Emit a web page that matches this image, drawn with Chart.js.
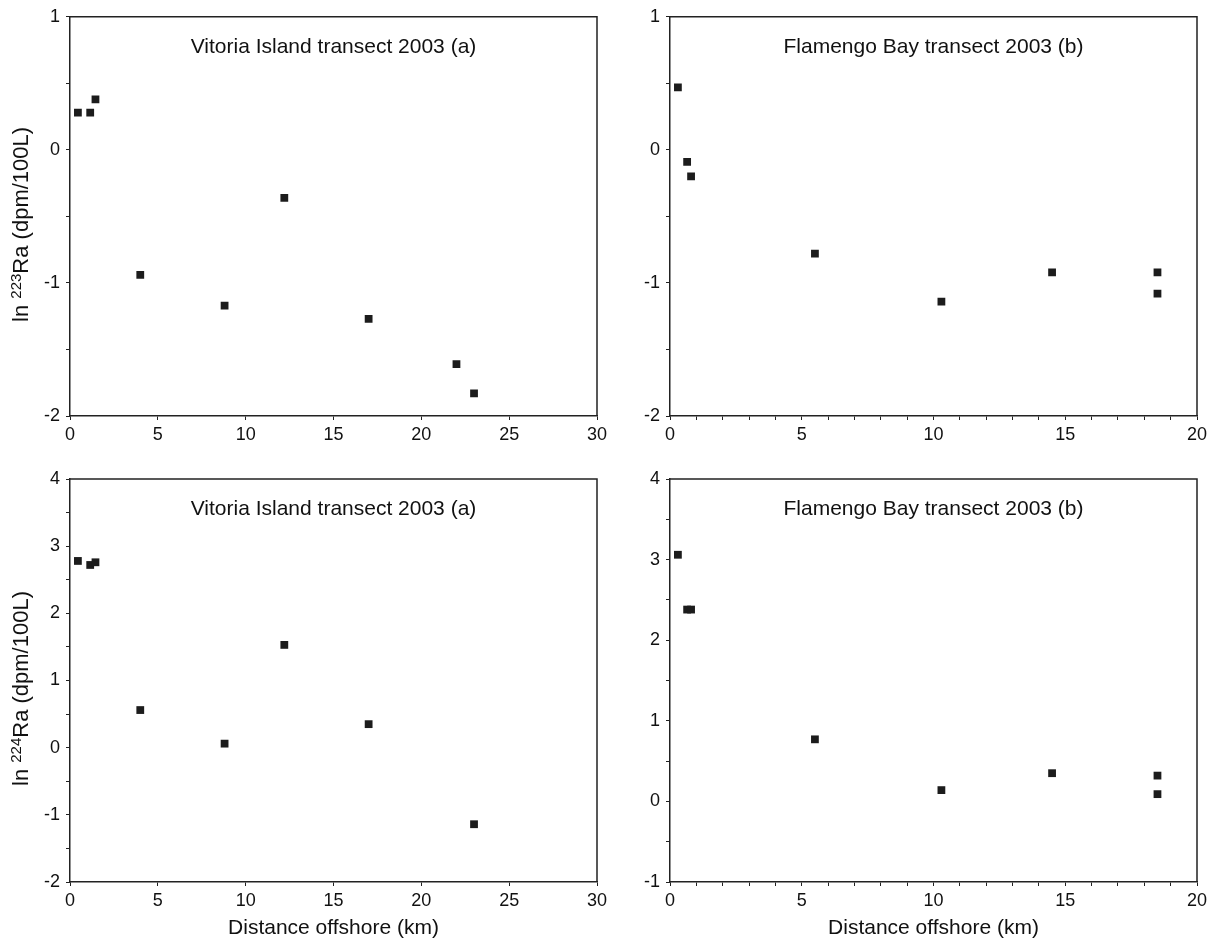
<!DOCTYPE html>
<html lang="en">
<head>
    <meta charset="UTF-8">
    <title>ln Ra vs distance offshore, 2003 transects</title>
    <script src="https://cdn.jsdelivr.net/npm/chart.js"></script>
    <style>
        body {
            margin: 0;
            background: #fff;
        }
        #wrap {
            position: relative;
            width: 1214px;
            height: 940px;
        }
        #wrap canvas {
            position: absolute;
        }
    </style>
</head>
<body>
    <div id="wrap">
        <canvas id="c1" width="620" height="460" style="left:0;top:0"></canvas>
        <canvas id="c2" width="614" height="460" style="left:600px;top:0"></canvas>
        <canvas id="c3" width="620" height="480" style="left:0;top:460px"></canvas>
        <canvas id="c4" width="614" height="480" style="left:600px;top:460px"></canvas>
    </div>

    <script>
        // Vitoria Island transect (a), distance in km
        const vitoriaX223 = [0.45, 1.15, 1.45, 4.0, 8.8, 12.2, 17.0, 22.0, 23.0];
        const vitoriaRa223 = [0.28, 0.28, 0.38, -0.94, -1.17, -0.36, -1.27, -1.61, -1.83];
        const vitoriaX224 = [0.45, 1.15, 1.45, 4.0, 8.8, 12.2, 17.0, 23.0];
        const vitoriaRa224 = [2.78, 2.72, 2.76, 0.56, 0.06, 1.53, 0.35, -1.14];

        // Flamengo Bay transect (b)
        const flamengoX223 = [0.3, 0.65, 0.8, 5.5, 10.3, 14.5, 18.5, 18.5];
        const flamengoRa223 = [0.47, -0.09, -0.20, -0.78, -1.14, -0.92, -0.92, -1.08];
        const flamengoX224 = [0.3, 0.65, 0.8, 5.5, 10.3, 14.5, 18.5, 18.5];
        const flamengoRa224 = [3.06, 2.38, 2.38, 0.77, 0.14, 0.35, 0.32, 0.09];

        const panelTitles = ["Vitoria Island transect 2003 (a)", "Flamengo Bay transect 2003 (b)"];
        const isotopes = ["223", "224"];
        const xTitle = "Distance offshore (km)";
        const yRange223 = [-2, 1];
        const yRange224Vitoria = [-2, 4];
        const yRange224Flamengo = [-1, 4];
        const xRangeVitoria = [0, 30];
        const xRangeFlamengo = [0, 20];

        const FONT = '"Liberation Sans", Arial, sans-serif';
        const INK = "#111";
        const LINE = "#222";

        // box top + right sides (left/bottom come from the axes)
        const framePlugin = {
            id: "frame",
            beforeDatasetsDraw(chart) {
                const a = chart.chartArea, ctx = chart.ctx;
                ctx.save();
                ctx.strokeStyle = LINE;
                ctx.lineWidth = 1.5;
                ctx.beginPath();
                ctx.moveTo(a.left, a.top);
                ctx.lineTo(a.right, a.top);
                ctx.lineTo(a.right, a.bottom);
                ctx.stroke();
                ctx.restore();
            }
        };

        function titlePlugin(text) {
            return {
                id: "panelTitle",
                afterDatasetsDraw(chart) {
                    const a = chart.chartArea, ctx = chart.ctx;
                    ctx.save();
                    ctx.font = "21px " + FONT;
                    ctx.fillStyle = INK;
                    ctx.textAlign = "center";
                    ctx.textBaseline = "alphabetic";
                    ctx.fillText(text, (a.left + a.right) / 2, a.top + 36);
                    ctx.restore();
                }
            };
        }

        // rotated y title with superscript mass number
        function yTitlePlugin(iso) {
            return {
                id: "yTitle",
                afterDraw(chart) {
                    const a = chart.chartArea, ctx = chart.ctx;
                    const parts = [
                        ["ln ", "22px " + FONT, 0],
                        [iso, "15px " + FONT, -7],
                        ["Ra (dpm/100L)", "22px " + FONT, 0]
                    ];
                    ctx.save();
                    ctx.translate(28, (a.top + a.bottom) / 2 + 8);
                    ctx.rotate(-Math.PI / 2);
                    ctx.fillStyle = INK;
                    ctx.textBaseline = "alphabetic";
                    ctx.textAlign = "left";
                    let w = 0;
                    parts.forEach(p => { ctx.font = p[1]; w += ctx.measureText(p[0]).width; });
                    let x = -w / 2;
                    parts.forEach(p => {
                        ctx.font = p[1];
                        ctx.fillText(p[0], x, p[2]);
                        x += ctx.measureText(p[0]).width;
                    });
                    ctx.restore();
                }
            };
        }

        // box = [left, top, right, bottom] of the plot area inside the canvas
        function makePanel(id, xs, ys, xRange, xStep, yRange, box, title, iso, showXTitle) {
            const canvas = document.getElementById(id);
            const points = xs.map((x, i) => ({ x: x, y: ys[i] }));
            const plugins = [framePlugin, titlePlugin(title)];
            if (iso) plugins.push(yTitlePlugin(iso));

            return new Chart(canvas, {
                type: "scatter",
                data: {
                    datasets: [{
                        data: points,
                        pointStyle: "rect",
                        pointRadius: 5.5,
                        pointHoverRadius: 5.5,
                        backgroundColor: "#1c1c1c",
                        borderWidth: 0
                    }]
                },
                options: {
                    responsive: false,
                    animation: false,
                    events: [],
                    layout: {
                        padding: { left: 0, top: box[1], right: canvas.width - box[2], bottom: 0 }
                    },
                    plugins: {
                        legend: { display: false },
                        tooltip: { enabled: false }
                    },
                    scales: {
                        x: {
                            type: "linear",
                            min: xRange[0],
                            max: xRange[1],
                            afterFit: s => { s.height = canvas.height - box[3]; },
                            border: { display: true, color: LINE, width: 1.5 },
                            grid: { drawOnChartArea: false, drawTicks: true, tickLength: 4, color: LINE, lineWidth: 1 },
                            ticks: {
                                stepSize: xStep,
                                autoSkip: false,
                                maxRotation: 0,
                                padding: 4,
                                color: INK,
                                font: { family: FONT, size: 18 },
                                callback: v => (v % 5 === 0 ? v : "")
                            },
                            title: {
                                display: showXTitle,
                                text: xTitle,
                                color: INK,
                                font: { family: FONT, size: 21, lineHeight: 1 },
                                padding: { top: 0, bottom: 1 }
                            }
                        },
                        y: {
                            type: "linear",
                            min: yRange[0],
                            max: yRange[1],
                            afterFit: s => { s.width = box[0]; },
                            border: { display: true, color: LINE, width: 1.5 },
                            grid: { drawOnChartArea: false, drawTicks: true, tickLength: 4, color: LINE, lineWidth: 1 },
                            ticks: {
                                stepSize: 0.5,
                                autoSkip: false,
                                padding: 6,
                                color: INK,
                                font: { family: FONT, size: 18 },
                                callback: v => (Number.isInteger(v) ? v : "")
                            }
                        }
                    }
                },
                plugins: plugins
            });
        }

        makePanel("c1", vitoriaX223, vitoriaRa223, xRangeVitoria, 5, yRange223,
            [70, 13, 597, 416], panelTitles[0], isotopes[0], false);
        makePanel("c2", flamengoX223, flamengoRa223, xRangeFlamengo, 1, yRange223,
            [70, 13, 597, 416], panelTitles[1], null, false);
        makePanel("c3", vitoriaX224, vitoriaRa224, xRangeVitoria, 5, yRange224Vitoria,
            [70, 19, 597, 422], panelTitles[0], isotopes[1], true);
        makePanel("c4", flamengoX224, flamengoRa224, xRangeFlamengo, 1, yRange224Flamengo,
            [70, 19, 597, 422], panelTitles[1], null, true);
    </script>
</body>
</html>
